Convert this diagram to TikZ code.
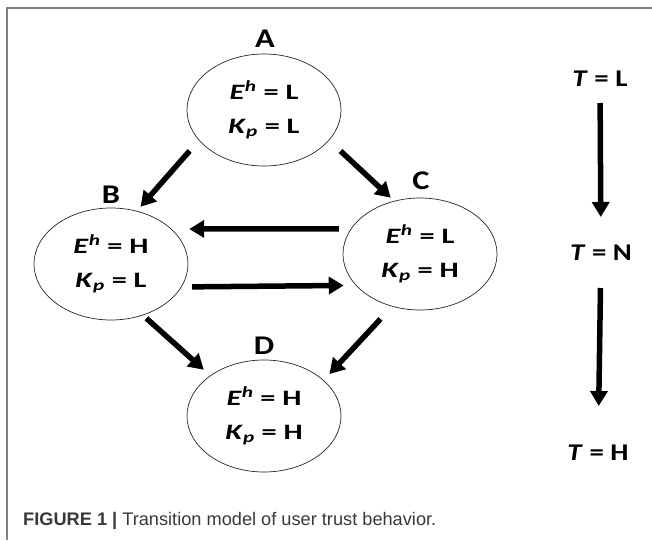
\documentclass[tikz,border=0pt]{standalone}
\usepackage{fontspec}
\setmainfont{Carlito}
\newfontfamily\statefont[FakeStretch=1.38]{Carlito}
\newfontfamily\trustfont[FakeStretch=1.2]{Carlito}
\newfontfamily\capfont{Liberation Sans}
\usetikzlibrary{shapes.geometric,arrows.meta,positioning}

\tikzset{
	state/.style={ellipse, draw=black!85, line width=0.7pt, minimum width=154pt, minimum height=112pt, inner sep=0pt, align=center, font=\statefont\fontsize{22}{34}\selectfont\bfseries},
	tag/.style={inner sep=0pt, font=\trustfont\fontsize{27}{27}\selectfont\bfseries},
	trust/.style={inner sep=0pt, font=\trustfont\fontsize{24}{26}\selectfont\bfseries},
	edge/.style={line width=5.5pt, -{Triangle[length=15pt,width=17pt]}},
}

\newcommand{\Eh}[1]{\textit{E}\textsuperscript{\textit{h}} = #1}
\newcommand{\Kp}[1]{\textit{K}\textsubscript{\textit{p}} = #1}

\begin{document}
\begin{tikzpicture}[x=1pt, y=-1pt]
			\useasboundingbox (0,0) rectangle (652,540);
			\draw[black!50, line width=1.2pt] (652,8) -- (7,8) -- (7,540);
			
			% Define nodes
			\node[state] (a) at (264,110) {\Eh{L}\\\Kp{L}};
			\node[state] (b) at (111,264) {\Eh{H}\\\Kp{L}};
			\node[state] (c) at (420,254) {\Eh{L}\\\Kp{H}};
			\node[state] (d) at (264,416) {\Eh{H}\\\Kp{H}};
			
			\node[tag, above=6pt of a, xshift=1pt]    (a_t) {A};
			\node[tag, above=4pt of b]                (b_t) {B};
			\node[tag, above=8pt of c, xshift=1pt]    (c_t) {C};
			\node[tag, above=5pt of d]                (d_t) {D};
			
			\node[trust] (t_l) at (600,79)  {\textit{T} = L};
			\node[trust] (t_n) at (601,253) {\textit{T} = N};
			\node[trust] (t_h) at (598,453) {\textit{T} = H};
			
			\node[anchor=west, inner sep=0pt, text=black!78, font=\capfont\fontsize{18.2}{20}\selectfont] (cap) at (23,521) {\textbf{FIGURE 1 |} Transition model of user trust behavior.};
			
			% Connect the nodes
			\draw[edge, shorten <=14pt, shorten >=5.5pt] (a.205) -- (b.64); %
			\draw[edge, shorten <=15.6pt, shorten >=4.6pt] (a.335) -- (c.116); %
			\draw[edge, shorten <=12pt, shorten >=17.6pt] (c.160) -- (b.30); %
			\draw[edge, shorten <=10.5pt, shorten >=12pt] (b.342) -- (c.206); %
			\draw[edge, shorten <=4.5pt, shorten >=8.6pt] (b.302) -- (d.143); %
			\draw[edge, shorten <=17pt, shorten >=8.3pt] (c.242) -- (d.31); %
			
			\draw[edge, shorten <=24pt, shorten >=36pt] (t_l.center) -- (t_n.center); %
			\draw[edge, shorten <=35pt, shorten >=47pt] (t_n.center) -- (t_h.center); %
			
\end{tikzpicture}
\end{document}
